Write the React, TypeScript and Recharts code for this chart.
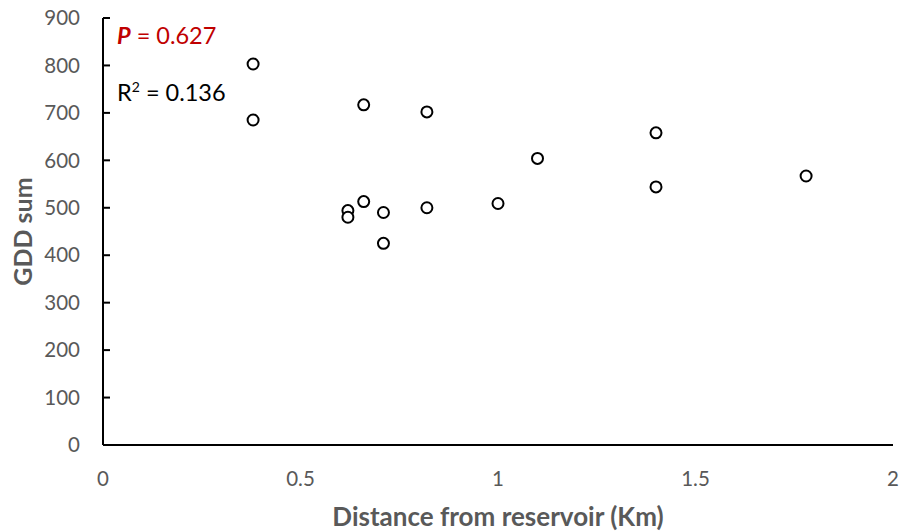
import { ScatterChart, Scatter, XAxis, YAxis } from "recharts"

const distance = [0.38, 0.38, 0.66, 0.82, 0.66, 0.62, 0.62, 0.71, 0.82, 0.71, 1.0, 1.1, 1.4, 1.4, 1.78]
const gddSum = [803, 685, 717, 702, 513, 494, 480, 490, 500, 425, 509, 604, 658, 544, 567]
const xTicks = [0, 0.5, 1, 1.5, 2]
const yTicks = [0, 100, 200, 300, 400, 500, 600, 700, 800, 900]

const data = distance.map((d, i) => ({ x: d, y: gddSum[i] }))

const font = "Lato, 'Open Sans', sans-serif"
const grey = "#595959"
const yTickGap = 23

const OpenCircle = (props: any) => {
  const { cx, cy } = props
  return <circle cx={cx} cy={cy} r={5.5} fill="#fff" stroke="#000" strokeWidth={2} />
}

// Excel-style tick: short mark pointing into the plot, label to the left
const YTick = (props: any) => {
  const { x, y, payload } = props
  const axisX = x + yTickGap
  return (
    <g>
      {payload.value !== 0 && <line x1={axisX} x2={axisX + 7} y1={y} y2={y} stroke="#000" strokeWidth={2} />}
      <text x={x} y={y} dy="0.355em" textAnchor="end" fill={grey} fontSize={20.5} fontFamily={font}>
        {payload.value}
      </text>
    </g>
  )
}

export default function App() {
  return (
    <div style={{ position: "absolute", left: 0, top: 0, width: 900, height: 531, background: "#fff", fontFamily: font }}>
      <ScatterChart width={900} height={531} margin={{ top: 18, right: 7, bottom: 26, left: 43 }}>
        <XAxis
          type="number"
          dataKey="x"
          domain={[0, 2]}
          ticks={xTicks}
          tickFormatter={(v) => String(v)}
          axisLine={{ stroke: "#000", strokeWidth: 2 }}
          tickLine={false}
          tick={{ fill: grey, fontSize: 20.5, fontFamily: font }}
          tickMargin={20}
          height={60}
          label={{ value: "Distance from reservoir (Km)", position: "insideBottom", offset: -21, fill: grey, fontSize: 26, fontWeight: "bold", fontFamily: font }}
        />
        <YAxis
          type="number"
          dataKey="y"
          domain={[0, 900]}
          ticks={yTicks}
          axisLine={{ stroke: "#000", strokeWidth: 2 }}
          tickLine={false}
          tickSize={0}
          tick={YTick}
          tickMargin={yTickGap}
          width={60}
          label={{ value: "GDD sum", angle: -90, position: "insideLeft", offset: -20, fill: grey, fontSize: 25, fontWeight: "bold", fontFamily: font, style: { textAnchor: "middle" } }}
        />
        <Scatter data={data} shape={OpenCircle} isAnimationActive={false} />
      </ScatterChart>
      <div style={{ position: "absolute", left: 117, top: 21, fontSize: 23.5, lineHeight: "28px", color: "#c00000", whiteSpace: "nowrap" }}>
        <b><i>P</i></b> = 0.627
      </div>
      <div style={{ position: "absolute", left: 117, top: 78, fontSize: 23.5, lineHeight: "28px", color: "#000", whiteSpace: "nowrap" }}>
        R<sup style={{ fontSize: 14, lineHeight: 0 }}>2</sup> = 0.136
      </div>
    </div>
  )
}
